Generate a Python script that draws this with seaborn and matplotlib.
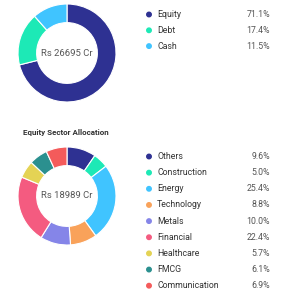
import matplotlib
matplotlib.use("Agg")
import matplotlib.pyplot as plt
import seaborn as sns

sns.set_theme(style="white")
plt.rcParams['font.family'] = ['Roboto', 'DejaVu Sans']

asset_labels = ["Equity", "Debt", "Cash"]
asset_values = [71.1, 17.4, 11.5]
asset_colors = ["#2e3192", "#1de9b6", "#40c4ff"]
asset_total = "Rs 26695 Cr"

sector_labels = ["Others", "Construction", "Energy", "Technology", "Metals",
                 "Financial", "Healthcare", "FMCG", "Communication"]
sector_values = [9.6, 5.0, 25.4, 8.8, 10.0, 22.4, 5.7, 6.1, 6.9]
sector_colors = ["#2e3192", "#1de9b6", "#40c4ff", "#f9a25a", "#8585e8",
                 "#f45b80", "#e4d354", "#2b908f", "#f45b5b"]
sector_total = "Rs 18989 Cr"
sector_title = "Equity Sector Allocation"

W, H = 288, 300
fig = plt.figure(figsize=(W / 100, H / 100), dpi=100)
fig.patch.set_facecolor("white")


def donut(cx, cy, r, values, colors, center_text):
    ax = fig.add_axes([(cx - r) / W, 1 - (cy + r) / H, 2 * r / W, 2 * r / H])
    ax.pie(values, colors=colors, startangle=90, counterclock=False,
           radius=1.0, wedgeprops=dict(width=0.38, edgecolor="white", linewidth=0.8))
    ax.set_xlim(-1, 1)
    ax.set_ylim(-1, 1)
    ax.set_aspect("equal")
    ax.axis("off")
    ax.text(0, 0, center_text, ha="center", va="center", fontsize=6.8, color="#555555")


def legend(y0, dy, labels, values, colors):
    for i, (lab, val, col) in enumerate(zip(labels, values, colors)):
        y = 1 - (y0 + i * dy) / H
        fig.patches.append(matplotlib.patches.Ellipse((149 / W, y), 4.5 / W, 4.5 / H,
                                                      transform=fig.transFigure,
                                                      color=col, figure=fig))
        fig.text(157 / W, y, lab, ha="left", va="center", fontsize=6.3, color="#333333")
        fig.text(270 / W, y, f"{val:.1f}%", ha="right", va="center", fontsize=6.3, color="#555555")


donut(67, 53, 49, asset_values, asset_colors, asset_total)
legend(14.5, 15.8, asset_labels, asset_values, asset_colors)

fig.text(23 / W, 1 - 133 / H, sector_title, ha="left", va="center", fontsize=5.8,
         fontweight="bold", color="#333333")
donut(67, 196, 49, sector_values, sector_colors, sector_total)
legend(156.5, 16.15, sector_labels, sector_values, sector_colors)

fig.savefig("out.png", dpi=100, facecolor="white")
